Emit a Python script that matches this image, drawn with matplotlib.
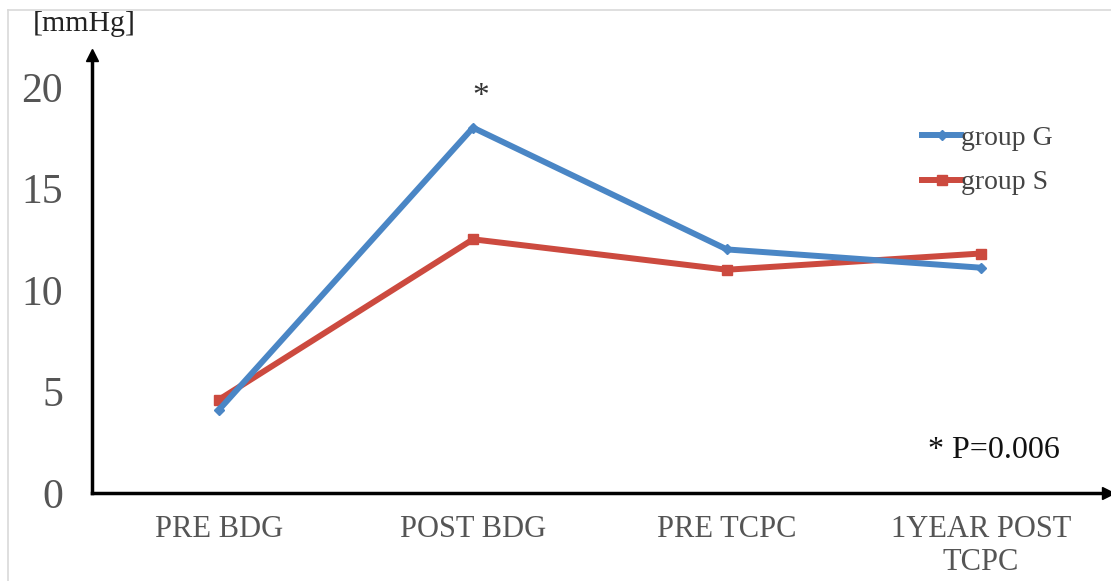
import matplotlib
matplotlib.use("Agg")
import matplotlib.pyplot as plt
from matplotlib.lines import Line2D

categories = ["PRE BDG", "POST BDG", "PRE TCPC", "1YEAR POST\nTCPC"]
group_g = [4.1, 18.0, 12.0, 11.1]
group_s = [4.6, 12.5, 11.0, 11.8]
yticks = [0, 5, 10, 15, 20]

W, H = 1111, 581
fig = plt.figure(figsize=(W / 100, H / 100), dpi=100)
serif = ["Liberation Serif", "DejaVu Serif"]

# light gray frame (top and left edges visible)
fig.add_artist(Line2D([8 / W, 8 / W], [0, 1 - 10 / H], transform=fig.transFigure,
                      color="#d9d9d9", lw=1.2))
fig.add_artist(Line2D([8 / W, 1], [1 - 10 / H, 1 - 10 / H], transform=fig.transFigure,
                      color="#d9d9d9", lw=1.2))

ax = fig.add_axes([92 / W, 1 - 493 / H, (1108 - 92) / W, (493 - 55) / H])
x = list(range(len(categories)))
blue = "#4a86c5"
red = "#cc4a3f"
ax.plot(x, group_g, color=blue, lw=4.3, marker="D", ms=5, solid_joinstyle="miter",
        label="group G", zorder=3)
ax.plot(x, group_s, color=red, lw=4.3, marker="s", ms=6.5, solid_joinstyle="miter",
        label="group S", zorder=2)

ax.set_xlim(-0.5, 3.5)
ax.set_ylim(0, 21.58)
ax.set_yticks(yticks)
ax.set_yticklabels([str(v) for v in yticks], family=serif, fontsize=30, color="#555555")
ax.set_xticks(x)
ax.set_xticklabels(categories, family=serif, fontsize=22, color="#555555", linespacing=1.15)
ax.tick_params(axis="both", length=0)
ax.tick_params(axis="y", pad=21)
ax.tick_params(axis="x", pad=16)

for s in ["top", "right"]:
    ax.spines[s].set_visible(False)
for s in ["left", "bottom"]:
    ax.spines[s].set_linewidth(2.5)
    ax.spines[s].set_color("black")
ax.plot(1, 0, ">", color="black", ms=9, transform=ax.transAxes, clip_on=False)
ax.plot(0, 1, "^", color="black", ms=9, transform=ax.transAxes, clip_on=False)

ax.text(1.03, 18.75, "*", family=serif, fontsize=24, color="#333333", ha="center", va="bottom")
ax.text(3.05, 2.1, "* P=0.006", family=serif, fontsize=23, color="#111111",
        ha="center", va="center")
fig.text(84 / W, 1 - 24 / H, "[mmHg]", family=serif, fontsize=21.5, color="#222222",
         ha="center", va="center")

leg = ax.legend(loc="upper left", bbox_to_anchor=(0.817, 0.84), frameon=False,
                prop={"family": serif, "size": 20}, handlelength=1.4, handletextpad=0.0,
                labelspacing=0.7, borderpad=0, borderaxespad=0, labelcolor="#444444")

fig.savefig("out.png", dpi=100)
